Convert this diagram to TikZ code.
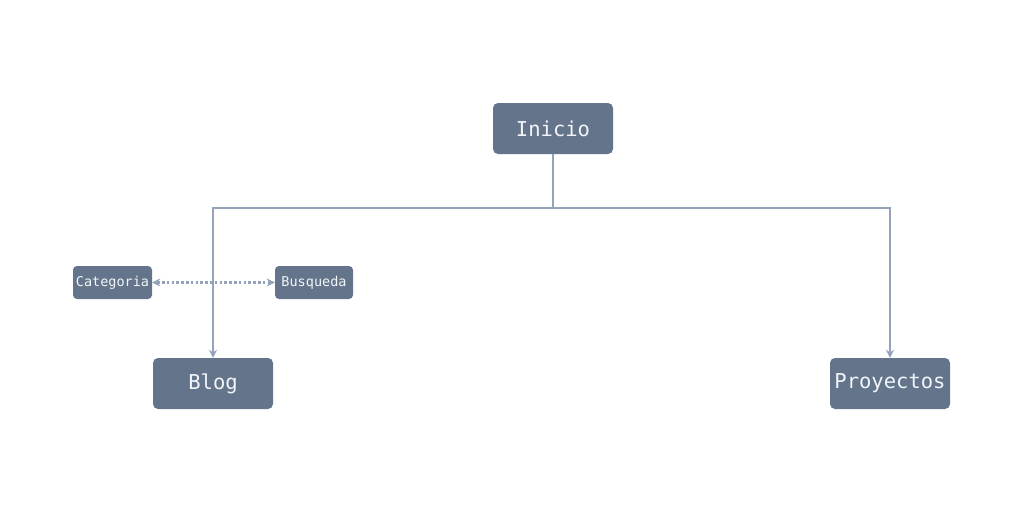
\documentclass[tikz,border=0pt]{standalone}
\usepackage{fontspec}
\setmonofont{DejaVu Sans Mono}
\usetikzlibrary{arrows.meta}
\definecolor{boxfill}{HTML}{64748B}
\definecolor{linecol}{HTML}{94A3B8}
\definecolor{txtcol}{HTML}{F1F5F9}
\begin{document}
\begin{tikzpicture}[x=1pt,y=-1pt,
  bigbox/.style={draw=none,fill=boxfill,rounded corners=5pt,minimum width=120pt,minimum height=51pt,inner sep=0pt,text=txtcol,font=\ttfamily\fontsize{20.5}{20.5}\selectfont},
  smallbox/.style={draw=none,fill=boxfill,rounded corners=4pt,minimum height=33pt,inner sep=0pt,text=txtcol,font=\ttfamily\fontsize{13.5}{13.5}\selectfont},
  conn/.style={draw=linecol,line width=2.6pt,-{Stealth[length=8pt,width=8pt]}},
  dotconn/.style={draw=linecol,line width=2.6pt,dash pattern=on 2.6pt off 2.2pt,{Stealth[length=8pt,width=8pt]}-{Stealth[length=8pt,width=8pt]}}
]
\useasboundingbox[fill=white] (0,0) rectangle (1024,512);
\node[bigbox] (inicio) at (553,128.5) {Inicio};
\node[bigbox] (blog) at (213,383.5) {Blog};
\node[bigbox] (proy) at (890,383.5) {Proyectos};
\node[smallbox,minimum width=79pt] (cat) at (112.5,282.5) {Categoria};
\node[smallbox,minimum width=78pt] (bus) at (314,282.5) {Busqueda};
\coordinate (j) at (553,208);
\draw[dotconn] (cat.east) -- (bus.west);
\draw[draw=linecol,line width=2.6pt] (inicio.south) -- (j);
\draw[conn] (j) -| (blog.north);
\draw[conn] (j) -| (proy.north);
\end{tikzpicture}
\end{document}
